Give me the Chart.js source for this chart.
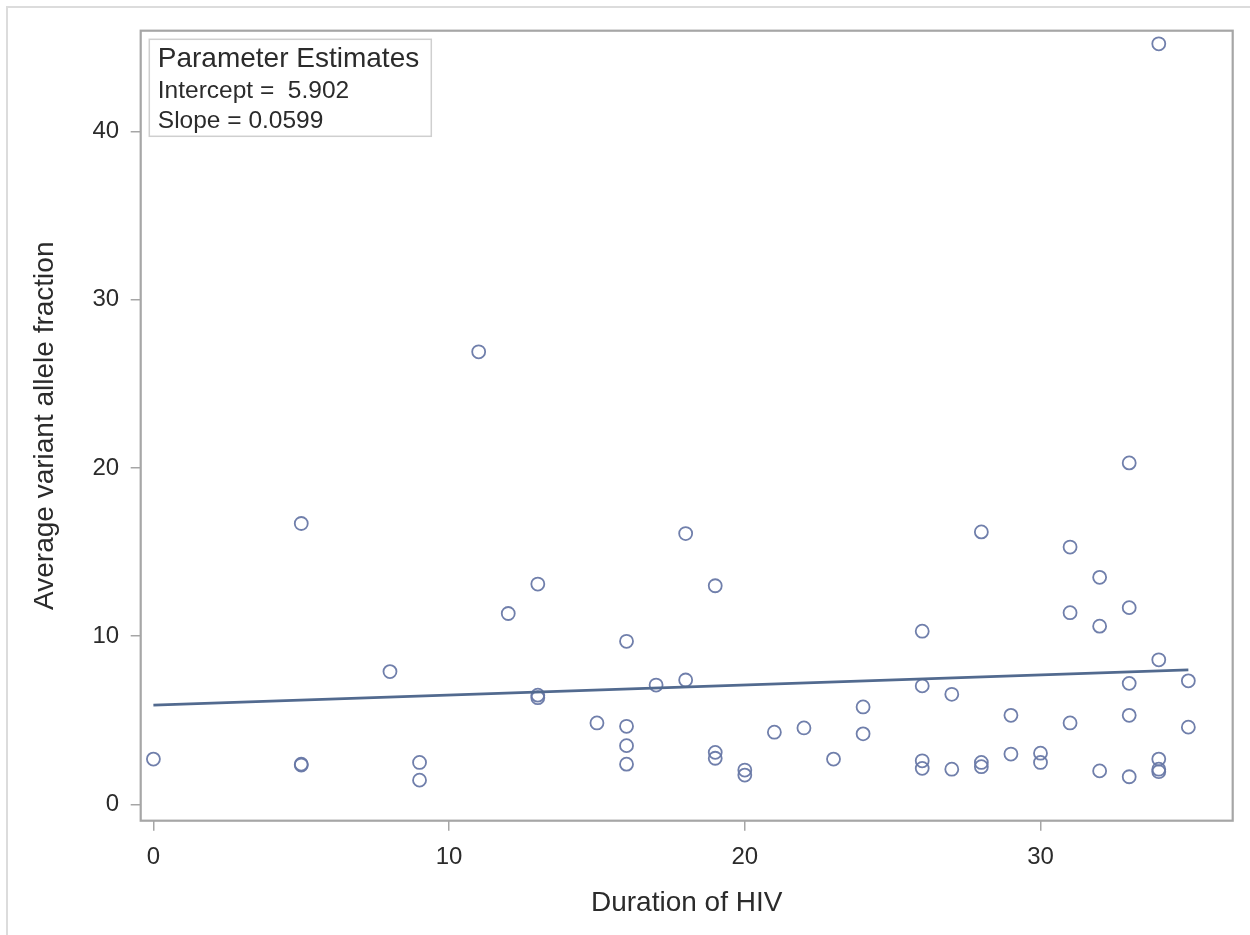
<!DOCTYPE html>
<html>
<head>
<meta charset="utf-8">
<script src="https://cdn.jsdelivr.net/npm/chart.js@4"></script>
<style>
  html, body { margin: 0; padding: 0; background: #ffffff; }
  #wrap { position: relative; width: 1250px; height: 935px; overflow: hidden; }
  #frame { position: absolute; left: 6px; top: 6px; width: 1300px; height: 1000px;
           border-left: 2px solid #dcdcdc; border-top: 2px solid #dcdcdc; }
  canvas { position: absolute; left: 0; top: 0; }
</style>
</head>
<body>
<div id="wrap">
  <div id="frame"></div>
  <canvas id="c" width="1250" height="935"></canvas>
</div>
<script>
// ---- data ----
const durationYears = [0, 5, 5, 5, 8, 9, 9, 11, 12, 13, 13, 13, 15, 16, 16, 16, 16, 17, 18, 18,
  19, 19, 19, 20, 20, 21, 22, 23, 24, 24, 26, 26, 26, 26, 27, 27, 28, 28, 28, 29, 29, 30, 30,
  31, 31, 31, 32, 32, 32, 33, 33, 33, 33, 33, 34, 34, 34, 34, 34, 35, 35];
const avgVAF = [2.7, 16.7, 2.4, 2.35, 7.9, 2.5, 1.45, 26.9, 11.35, 13.1, 6.5, 6.35, 4.85, 9.7, 4.65, 3.5, 2.4, 7.1, 16.1, 7.4,
  13.0, 3.1, 2.75, 2.05, 1.75, 4.3, 4.55, 2.7, 5.8, 4.2, 10.3, 7.05, 2.6, 2.15, 6.55, 2.1, 16.2, 2.5, 2.25, 5.3, 3.0, 3.05, 2.5,
  15.3, 11.4, 4.85, 13.5, 10.6, 2.0, 20.3, 11.7, 7.2, 5.3, 1.65, 45.2, 8.6, 2.7, 2.1, 1.95, 7.35, 4.6];
const fitIntercept = 5.902;
const fitSlope = 0.0599;
const fitRange = [0, 35];
const xTicks = [0, 10, 20, 30];
const yTicks = [0, 10, 20, 30, 40];
const xLimits = [-0.43, 36.5];
const yLimits = [-0.96, 45.98];
const legendLines = ["Parameter Estimates", "Intercept =  5.902", "Slope = 0.0599"];
const xTitle = "Duration of HIV";
const yTitle = "Average variant allele fraction";

const scatterPoints = durationYears.map((x, i) => ({ x: x, y: avgVAF[i] }));
const fitPoints = fitRange.map(x => ({ x: x, y: fitIntercept + fitSlope * x }));

const FONT = "'Liberation Sans', Arial, sans-serif";
const TEXT = "#2b2b2b";
const AXIS = "#a6a6a6";

const framePlugin = {
  id: 'frame',
  beforeDatasetsDraw(chart) {
    const a = chart.chartArea, ctx = chart.ctx;
    ctx.save();
    ctx.strokeStyle = AXIS;
    ctx.lineWidth = 2.2;
    ctx.strokeRect(a.left, a.top, a.right - a.left, a.bottom - a.top);
    ctx.restore();
  },
  afterDatasetsDraw(chart) {
    const a = chart.chartArea, ctx = chart.ctx;
    ctx.save();
    const bx = a.left + 8.6, by = a.top + 8.6, bw = 282, bh = 97;
    ctx.fillStyle = "#ffffff";
    ctx.fillRect(bx, by, bw, bh);
    ctx.strokeStyle = "#cfcfcf";
    ctx.lineWidth = 1.5;
    ctx.strokeRect(bx, by, bw, bh);
    ctx.fillStyle = TEXT;
    ctx.textBaseline = "alphabetic";
    ctx.textAlign = "left";
    ctx.font = "28px " + FONT;
    ctx.fillText(legendLines[0], bx + 8.5, by + 27.5);
    ctx.font = "24.5px " + FONT;
    ctx.fillText(legendLines[1], bx + 8.5, by + 59);
    ctx.fillText(legendLines[2], bx + 8.5, by + 89);
    ctx.restore();
  }
};

new Chart(document.getElementById('c'), {
  data: {
    datasets: [
      {
        type: 'scatter',
        data: scatterPoints,
        pointStyle: 'circle',
        pointRadius: 6.5,
        pointHoverRadius: 6.5,
        pointBorderWidth: 1.8,
        pointBorderColor: 'rgba(104,120,166,0.95)',
        pointBackgroundColor: 'rgba(0,0,0,0)',
        order: 2
      },
      {
        type: 'line',
        data: fitPoints,
        borderColor: '#526a8f',
        borderWidth: 2.8,
        pointRadius: 0,
        fill: false,
        order: 1
      }
    ]
  },
  options: {
    responsive: false,
    devicePixelRatio: 1,
    animation: false,
    layout: { padding: { left: 0, top: 30.7, right: 17.3, bottom: 0 } },
    plugins: { legend: { display: false }, tooltip: { enabled: false } },
    scales: {
      x: {
        type: 'linear',
        min: xLimits[0], max: xLimits[1],
        afterBuildTicks: s => { s.ticks = xTicks.map(v => ({ value: v })); },
        afterFit: s => { s.height = 114.3; },
        border: { display: false },
        grid: { display: true, drawOnChartArea: false, drawTicks: true, tickLength: 10, color: AXIS, lineWidth: 1.5 },
        ticks: { color: TEXT, font: { family: FONT, size: 24 }, padding: 12, maxRotation: 0 },
        title: { display: true, text: xTitle, color: TEXT, font: { family: FONT, size: 28 }, padding: { top: 0, bottom: 15 } }
      },
      y: {
        type: 'linear',
        min: yLimits[0], max: yLimits[1],
        afterBuildTicks: s => { s.ticks = yTicks.map(v => ({ value: v })); },
        afterFit: s => { s.width = 140.7; },
        border: { display: false },
        grid: { display: true, drawOnChartArea: false, drawTicks: true, tickLength: 10, color: AXIS, lineWidth: 1.5 },
        ticks: { color: TEXT, font: { family: FONT, size: 24 }, padding: 11.5 },
        title: { display: true, text: yTitle, color: TEXT, font: { family: FONT, size: 28 }, padding: { top: 28, bottom: 0 } }
      }
    }
  },
  plugins: [framePlugin]
});
</script>
</body>
</html>
